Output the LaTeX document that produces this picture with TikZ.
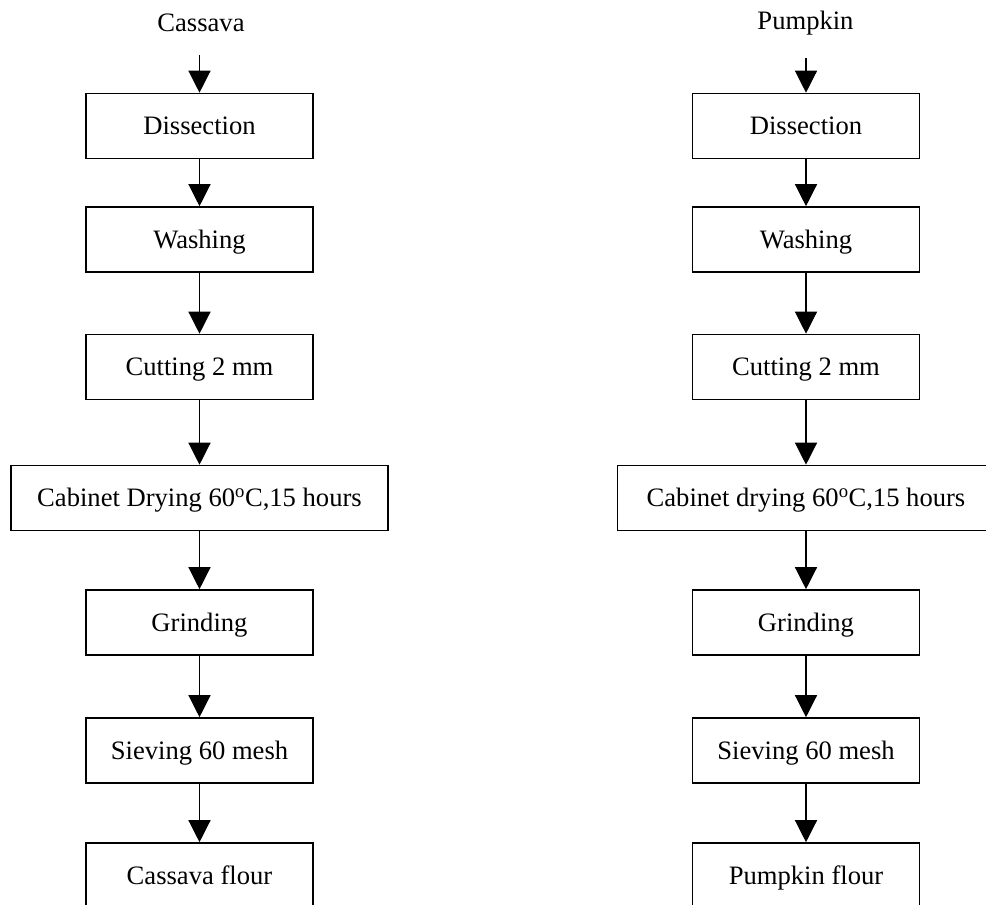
\documentclass[tikz,border=0pt]{standalone}
\usepackage{fontspec}
\setmainfont{Liberation Serif}
\usepackage{tikz}
\usetikzlibrary{arrows.meta, positioning}

\tikzset{
  stepbox/.style={draw=black,line width=1.6pt,minimum width=227pt,minimum height=65pt,
    inner sep=0pt,text height=21.3pt,text depth=3.7pt},
  widebox/.style={stepbox,minimum width=377pt},
  rawlabel/.style={inner sep=0pt},
  flowarr/.style={line width=1.3pt,-{Triangle[width=22pt,length=22pt]}}
}

\begin{document}
\begin{tikzpicture}[x=1pt,y=-1pt,font=\fontsize{26.6}{30}\selectfont]
      \useasboundingbox (0,0) rectangle (986,905);
      \clip (0,0) rectangle (986,905);
      \fill[white] (0,0) rectangle (986,905);

      % cassava line
      \node[rawlabel] (casIn) at (201,23) {Cassava};
      \node[stepbox] (casA) at (199.5,126) {Dissection};
      \node[stepbox] (casB) at (199.5,239.5) {Washing};
      \node[stepbox] (casC) at (199.5,367) {Cutting 2 mm};
      \node[widebox] (casD) at (199.5,498) {Cabinet Drying 60\textsuperscript{o}C,15 hours};
      \node[stepbox] (casE) at (199.5,622.5) {Grinding};
      \node[stepbox] (casF) at (199.5,750.5) {Sieving 60 mesh};
      \node[stepbox] (casG) at (199.5,875.5) {Cassava flour};

      % pumpkin line
      \node[rawlabel] (pumIn) at (805.5,23) {Pumpkin};
      \node[stepbox] (pumA) at (806,126) {Dissection};
      \node[stepbox] (pumB) at (806,239.5) {Washing};
      \node[stepbox] (pumC) at (806,367) {Cutting 2 mm};
      \node[widebox] (pumD) at (806,498) {Cabinet drying 60\textsuperscript{o}C,15 hours};
      \node[stepbox] (pumE) at (806,622.5) {Grinding};
      \node[stepbox] (pumF) at (806,750.5) {Sieving 60 mesh};
      \node[stepbox] (pumG) at (806,875.5) {Pumpkin flour};

      \draw[flowarr,shorten <=23pt] (casIn.south -| casA.north) -- (casA.north);
      \draw[flowarr,shorten <=23pt] (pumIn.south -| pumA.north) -- (pumA.north);
      \foreach \col in {cas,pum}{
        \draw[flowarr] (\col A) -- (\col B);
        \draw[flowarr] (\col B) -- (\col C);
        \draw[flowarr] (\col C) -- (\col D);
        \draw[flowarr] (\col D) -- (\col E);
        \draw[flowarr] (\col E) -- (\col F);
        \draw[flowarr] (\col F) -- (\col G);
      }
    \end{tikzpicture}
\end{document}
